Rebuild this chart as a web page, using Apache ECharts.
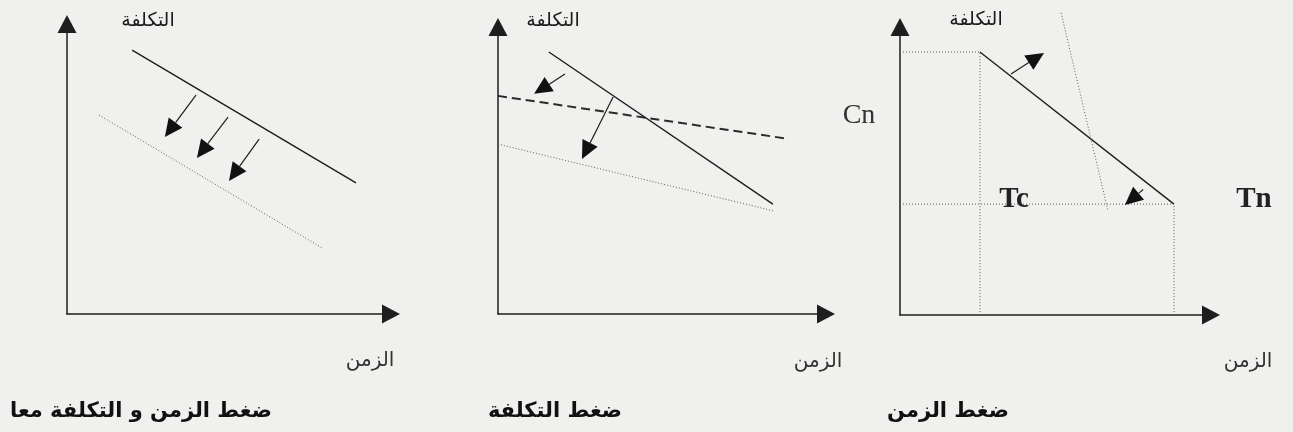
<!DOCTYPE html>
<html>
<head>
<meta charset="utf-8">
<script src="https://cdn.jsdelivr.net/npm/echarts@6/dist/echarts.min.js"></script>
<style>
  html, body { margin: 0; padding: 0; background: #f0f0ee; }
  #chart { width: 1293px; height: 432px; }
</style>
</head>
<body>
<div id="chart"></div>
<script>
// Axis titles and panel captions
const costLabel = 'التكلفة';
const timeLabel = 'الزمن';
const captions = ['ضغط الزمن و التكلفة معا', 'ضغط التكلفة', 'ضغط الزمن'];

// Panel 1 – time and cost compressed together (x: time, y: cost, 0..100)
const p1Solid = [[20.1, 91.0], [89.2, 45.2]];
const p1Dotted = [[9.9, 68.6], [78.7, 22.8]];
const p1Arrows = [
  [[39.8, 75.5], [30.2, 61.0]],
  [[49.7, 67.9], [40.1, 53.8]],
  [[59.3, 60.3], [50.0, 45.9]]
];

// Panel 2 – cost compression
const p2Solid = [[15.5, 91.3], [83.8, 38.3]];
const p2Dashed = [[0, 76.0], [88.7, 61.0]];
const p2Dotted = [[0, 59.2], [84.1, 35.9]];
const p2Arrows = [
  [[20.4, 83.6], [11.0, 76.7]],
  [[35.1, 75.6], [25.6, 54.0]]
];

// Panel 3 – time compression: crash point (Tc, Cc) and normal point (Tn, Cn)
const p3Crash = [25.7, 91.3];
const p3Normal = [88.1, 38.5];
const p3Steep = [[51.8, 104.9], [66.9, 36.1]];
const p3Arrows = [
  [[35.7, 83.7], [46.3, 91.0]],
  [[78.2, 43.6], [72.3, 38.2]]
];

const INK = '#1e1e1e';
const DOT = '#5e5e5e';

const grids = [
  { left: 67, top: 24, width: 324, height: 290 },
  { left: 498, top: 27, width: 328, height: 287 },
  { left: 900, top: 27, width: 311, height: 288 }
];

function axisLine() {
  return {
    show: true,
    onZero: true,
    symbol: ['none', 'triangle'],
    symbolSize: [19, 18],
    lineStyle: { color: INK, width: 1.5 }
  };
}

const xAxes = grids.map((g, i) => ({
  type: 'value', gridIndex: i, min: 0, max: 100,
  axisLine: axisLine(), axisTick: { show: false },
  axisLabel: { show: false }, splitLine: { show: false }
}));
const yAxes = grids.map((g, i) => ({
  type: 'value', gridIndex: i, min: 0, max: 100,
  axisLine: axisLine(), axisTick: { show: false },
  axisLabel: { show: false }, splitLine: { show: false }
}));

function seg(panel, data, style, extra) {
  return Object.assign({
    type: 'line', xAxisIndex: panel, yAxisIndex: panel,
    data: data, showSymbol: false, symbol: 'none', silent: true,
    lineStyle: style, clip: false, z: 3
  }, extra || {});
}

const solidStyle = { color: INK, width: 1.4, type: 'solid' };
const dottedStyle = { color: DOT, width: 1, type: [1, 2] };
const dashedStyle = { color: '#2a2a2a', width: 2, type: [9, 5] };

// Arrow: straight shaft plus a filled triangular head whose tip sits on the end point
function arrowSeries(panel, arrows) {
  return {
    type: 'custom', coordinateSystem: 'cartesian2d',
    xAxisIndex: panel, yAxisIndex: panel, silent: true, clip: false, z: 5,
    data: arrows.map(a => [a[0][0], a[0][1], a[1][0], a[1][1]]),
    encode: { x: [0, 2], y: [1, 3] },
    renderItem: function (params, api) {
      const a = api.coord([api.value(0), api.value(1)]);
      const b = api.coord([api.value(2), api.value(3)]);
      const dx = b[0] - a[0], dy = b[1] - a[1];
      const L = Math.hypot(dx, dy);
      const ux = dx / L, uy = dy / L;
      const hl = Math.min(18, L), hw = 8.5;
      const bx = b[0] - ux * hl, by = b[1] - uy * hl;
      return {
        type: 'group',
        children: [
          { type: 'line', shape: { x1: a[0], y1: a[1], x2: bx, y2: by },
            style: { stroke: INK, lineWidth: 1.2 } },
          { type: 'polygon',
            shape: { points: [[b[0], b[1]], [bx - uy * hw, by + ux * hw], [bx + uy * hw, by - ux * hw]] },
            style: { fill: '#111' } }
        ]
      };
    }
  };
}

const series = [
  seg(0, p1Solid, solidStyle),
  seg(0, p1Dotted, dottedStyle),
  arrowSeries(0, p1Arrows),

  seg(1, p2Solid, solidStyle),
  seg(1, p2Dashed, dashedStyle),
  seg(1, p2Dotted, dottedStyle),
  arrowSeries(1, p2Arrows),

  seg(2, [p3Crash, p3Normal], solidStyle),
  seg(2, [[0, p3Crash[1]], p3Crash, [p3Crash[0], 0]], dottedStyle),
  seg(2, [[0, p3Normal[1]], p3Normal, [p3Normal[0], 0]], dottedStyle),
  seg(2, p3Steep, dottedStyle),
  arrowSeries(2, p3Arrows)
];

const arabic = '"DejaVu Sans", sans-serif';
const serif = '"Liberation Serif", "DejaVu Serif", serif';

function txt(text, x, y, font, fill) {
  return {
    type: 'text', x: x, y: y, silent: true, z: 10,
    style: { text: text, font: font, fill: fill || '#222', align: 'center', verticalAlign: 'middle' }
  };
}

const graphic = [
  txt(costLabel, 148, 21, '19px ' + arabic, '#1a1a1a'),
  txt(costLabel, 553, 21, '19px ' + arabic, '#1a1a1a'),
  txt(costLabel, 976, 20, '19px ' + arabic, '#1a1a1a'),
  txt(timeLabel, 370, 361, '20px ' + arabic, '#333'),
  txt(timeLabel, 818, 362, '20px ' + arabic, '#333'),
  txt(timeLabel, 1248, 362, '20px ' + arabic, '#333'),
  txt(captions[0], 141, 412, 'bold 21px ' + arabic, '#111'),
  txt(captions[1], 555, 412, 'bold 21px ' + arabic, '#111'),
  txt(captions[2], 948, 412, 'bold 21px ' + arabic, '#111'),
  txt('Cn', 859, 116, '28px ' + serif, '#333'),
  txt('Tc', 1014, 200, 'bold 29px ' + serif, '#222'),
  txt('Tn', 1254, 200, 'bold 29px ' + serif, '#222')
];

const chart = echarts.init(document.getElementById('chart'), null, { renderer: 'canvas' });
chart.setOption({
  backgroundColor: '#f0f0ee',
  animation: false,
  grid: grids,
  xAxis: xAxes,
  yAxis: yAxes,
  series: series,
  graphic: graphic
});
</script>
</body>
</html>
